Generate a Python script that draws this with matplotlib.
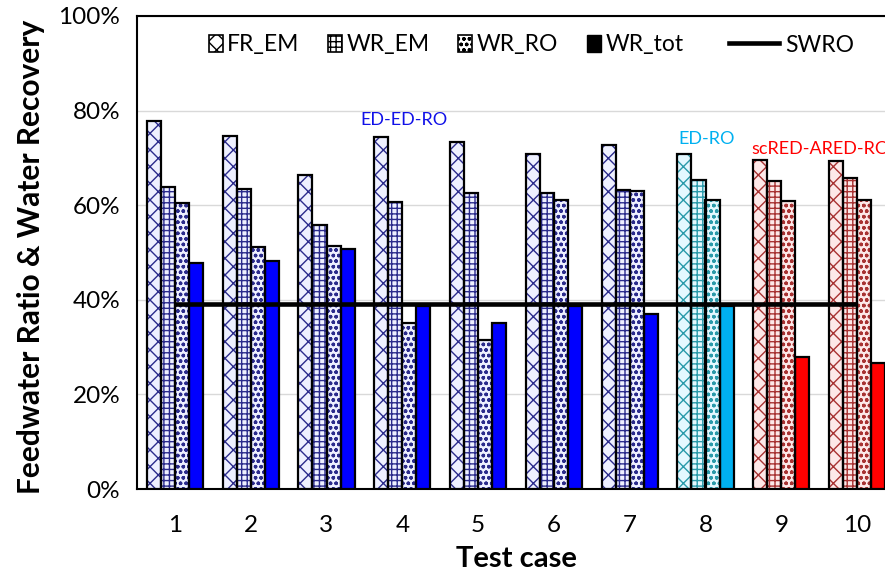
import matplotlib
matplotlib.use("Agg")
import matplotlib.pyplot as plt
import numpy as np
from matplotlib.patches import Patch
from matplotlib.lines import Line2D
from matplotlib.ticker import PercentFormatter

# ---------------- data ----------------
cases = [1, 2, 3, 4, 5, 6, 7, 8, 9, 10]
fr_em = [77.8, 74.6, 66.3, 74.4, 73.4, 70.9, 72.8, 70.9, 69.5, 69.3]
wr_em = [63.9, 63.5, 55.9, 60.7, 62.5, 62.5, 63.2, 65.3, 65.1, 65.7]
wr_ro = [60.4, 51.1, 51.3, 35.1, 31.6, 61.2, 62.9, 61.0, 60.8, 61.0]
wr_tot = [47.7, 48.2, 50.8, 38.7, 35.2, 38.7, 37.0, 38.6, 28.0, 26.6]
swro = [39.2, 39.2, 39.2, 39.2, 39.2, 39.2, 39.2, 39.2, 39.2, 39.2]
families = ["ED-ED-RO"] * 7 + ["ED-RO"] + ["scRED-ARED-RO"] * 2
series_names = ["FR_EM", "WR_EM", "WR_RO", "WR_tot"]
swro_name = "SWRO"
y_ticks = [0, 20, 40, 60, 80, 100]
x_label = "Test case"
y_label = "Feedwater Ratio & Water Recovery"

# ---------------- styles ----------------
FONT = ["Lato", "DejaVu Sans"]
plt.rcParams["font.family"] = FONT
plt.rcParams["hatch.linewidth"] = 1.0

fam_style = {
    "ED-ED-RO": dict(solid="#0000FF", light="#EEF0FF", hatch="#2B2B8C", text="#1010E8"),
    "ED-RO": dict(solid="#00B0F0", light="#E4F8FF", hatch="#2A9AAA", text="#00B0F0"),
    "scRED-ARED-RO": dict(solid="#FF0000", light="#FDE8E8", hatch="#A83232", text="#FF0000"),
}
hatches = ["xx", "+++", "ooo", None]

W_PX, H_PX = 885, 579
fig = plt.figure(figsize=(W_PX / 100, H_PX / 100), dpi=100)
ax_left, ax_right, ax_top, ax_bottom = 137, 895, 16, 489
ax = fig.add_axes([ax_left / W_PX, 1 - ax_bottom / H_PX,
                   (ax_right - ax_left) / W_PX, (ax_bottom - ax_top) / H_PX])

x = np.array(cases, dtype=float)
w = 0.185
series = [fr_em, wr_em, wr_ro, wr_tot]
for k, vals in enumerate(series):
    xs = x + (k - 1.5) * w
    if hatches[k] is None:
        ax.bar(xs, vals, width=w, color=[fam_style[f]["solid"] for f in families],
               edgecolor="black", linewidth=1.6, zorder=3)
    else:
        ax.bar(xs, vals, width=w, color=[fam_style[f]["light"] for f in families],
               edgecolor=[fam_style[f]["hatch"] for f in families], hatch=hatches[k],
               linewidth=0, zorder=3)
        ax.bar(xs, vals, width=w, fill=False, edgecolor="black", linewidth=1.6, zorder=4)

ax.plot(x, swro, color="black", linewidth=3.3, zorder=5, solid_capstyle="butt")

# family annotations
ann_pos = {"ED-ED-RO": (4.02, 78.0, "center"), "ED-RO": (8.02, 73.9, "center"),
           "scRED-ARED-RO": (8.61, 71.8, "left")}
for fam, (px, py, ha) in ann_pos.items():
    ax.text(px, py, fam, color=fam_style[fam]["text"], fontsize=13, ha=ha, va="center",
            zorder=6, clip_on=False)

ax.set_xlim(0.5, 10.5)
ax.set_ylim(0, 100)
ax.set_yticks(y_ticks)
ax.yaxis.set_major_formatter(PercentFormatter(decimals=0))
ax.set_xticks(cases)
ax.tick_params(axis="both", length=0)
ax.tick_params(axis="x", labelsize=17.5, pad=19)
ax.tick_params(axis="y", labelsize=17.5, pad=12)
ax.grid(axis="y", color="#D9D9D9", linewidth=1.0, zorder=0)
ax.set_axisbelow(True)
for s in ax.spines.values():
    s.set_color("black")
    s.set_linewidth(1.5)

ax.set_xlabel(x_label, fontsize=21, fontweight="bold")
ax.xaxis.set_label_coords((516 - ax_left) / (ax_right - ax_left),
                          (ax_bottom - 559) / (ax_bottom - ax_top))
ax.xaxis.label.set_va("center")
ax.set_ylabel(y_label, fontsize=21.5, fontweight="bold", va="center")
ax.yaxis.set_label_coords((31 - ax_left) / (ax_right - ax_left),
                          (ax_bottom - 257) / (ax_bottom - ax_top))

# legend
h_patch = [Patch(facecolor="white", edgecolor="black", hatch=hatches[k], linewidth=1.2)
           for k in range(3)]
h_patch.append(Patch(facecolor="black", edgecolor="black"))
leg1 = ax.legend(h_patch, series_names, loc="center left", ncol=4, frameon=False,
                 bbox_to_anchor=((209 - ax_left) / (ax_right - ax_left),
                                 (ax_bottom - 45) / (ax_bottom - ax_top)),
                 borderaxespad=0, borderpad=0, fontsize=16.5, handlelength=0.6,
                 handleheight=0.7, handletextpad=0.2, columnspacing=1.25)
ax.add_artist(leg1)
ax.legend([Line2D([], [], color="black", linewidth=3.3)], [swro_name], loc="center left",
          frameon=False,
          bbox_to_anchor=((729 - ax_left) / (ax_right - ax_left),
                          (ax_bottom - 45) / (ax_bottom - ax_top)),
          borderaxespad=0, borderpad=0, fontsize=16.5, handlelength=2.2, handletextpad=0.25)

fig.savefig("out.png", dpi=100)
